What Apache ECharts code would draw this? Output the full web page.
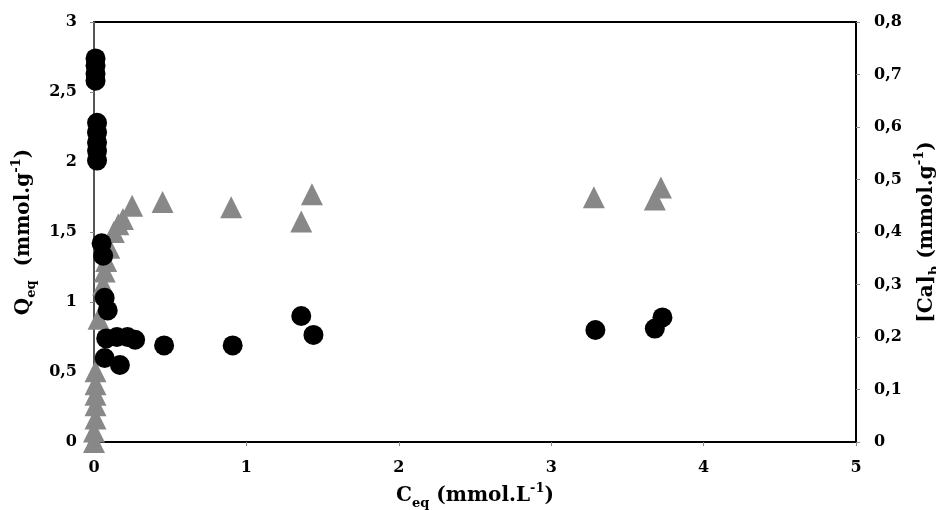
<!DOCTYPE html>
<html>
<head>
<meta charset="utf-8">
<script src="https://cdn.jsdelivr.net/npm/echarts@6/dist/echarts.min.js"></script>
<style>html,body{margin:0;padding:0;background:#fff;}#c{width:936px;height:510px;}</style>
</head>
<body>
<div id="c"></div>
<script>
// Black circles: Qeq (left axis)
const circleX = [0.01,0.01,0.01,0.01,0.02,0.02,0.02,0.02,0.02,0.05,0.06,0.07,0.09,0.08,0.15,0.22,0.27,0.07,0.17,0.46,0.91,1.36,1.44,3.29,3.68,3.73];
const circleY = [2.74,2.69,2.63,2.58,2.28,2.21,2.14,2.08,2.01,1.42,1.33,1.03,0.94,0.74,0.75,0.75,0.73,0.60,0.55,0.69,0.69,0.90,0.765,0.80,0.81,0.89];
// Gray triangles: [Ca]b (right axis)
const triX = [0.00,0.00,0.01,0.01,0.01,0.01,0.01,0.03,0.06,0.07,0.08,0.10,0.13,0.16,0.19,0.25,0.45,0.90,1.36,1.43,3.28,3.68,3.72];
const triY = [0.00,0.02,0.045,0.07,0.09,0.11,0.135,0.235,0.30,0.325,0.345,0.37,0.40,0.415,0.425,0.45,0.457,0.447,0.42,0.472,0.466,0.462,0.485];
const xTicks = {min:0, max:5, interval:1};
const yLeftTicks = {min:0, max:3, interval:0.5};
const yRightTicks = {min:0, max:0.8, interval:0.1};

const FONT = '"DejaVu Serif", "Liberation Serif", serif';
const comma = v => (Math.round(v*10)/10).toString().replace('.', ',');
const labelStyle = {fontFamily: FONT, fontWeight: 'bold', fontSize: 16, color: '#000'};
const nameRich = {
  n: {fontFamily: FONT, fontWeight: 'bold', fontSize: 20, color: '#000', verticalAlign: 'middle', lineHeight: 28},
  sub: {fontFamily: FONT, fontWeight: 'bold', fontSize: 13, color: '#000', verticalAlign: 'bottom', lineHeight: 14},
  sup: {fontFamily: FONT, fontWeight: 'bold', fontSize: 13, color: '#000', verticalAlign: 'top', lineHeight: 14}
};

const chart = echarts.init(document.getElementById('c'), null, {renderer: 'canvas'});
chart.setOption({
  animation: false,
  backgroundColor: '#fff',
  grid: {left: 94, right: 80, top: 22, bottom: 68, containLabel: false, outerBoundsMode: 'none',
         show: true, borderColor: '#000', borderWidth: 2, backgroundColor: 'transparent'},
  xAxis: {
    type: 'value', min: xTicks.min, max: xTicks.max, interval: xTicks.interval,
    axisLine: {show: true, lineStyle: {color: '#000', width: 2}},
    axisTick: {show: true, inside: false, length: 4, lineStyle: {color: '#888'}},
    splitLine: {show: false},
    axisLabel: Object.assign({margin: 18}, labelStyle),
    name: '{n|C}{sub|eq}{n| (mmol.L}{sup|-1}{n|)}',
    nameLocation: 'middle', nameGap: 40,
    nameTextStyle: {rich: nameRich}
  },
  yAxis: [{
    type: 'value', min: yLeftTicks.min, max: yLeftTicks.max, interval: yLeftTicks.interval,
    position: 'left',
    axisLine: {show: true, onZero: false, lineStyle: {color: '#555', width: 2}},
    axisTick: {show: true, inside: false, length: 4, lineStyle: {color: '#888'}},
    splitLine: {show: false},
    axisLabel: Object.assign({margin: 17, formatter: v => comma(v)}, labelStyle),
    name: '{n|Q}{sub|eq}{n|  (mmol.g}{sup|-1}{n|)}',
    nameLocation: 'middle', nameGap: 52, nameRotate: 90,
    nameTextStyle: {rich: nameRich}
  }, {
    type: 'value', min: yRightTicks.min, max: yRightTicks.max, interval: yRightTicks.interval,
    position: 'right',
    axisLine: {show: true, onZero: false, lineStyle: {color: '#000', width: 2}},
    axisTick: {show: true, inside: false, length: 4, lineStyle: {color: '#888'}},
    splitLine: {show: false},
    axisLabel: Object.assign({margin: 18, formatter: v => comma(v)}, labelStyle),
    name: '{n|[Ca]}{sub|b}{n| (mmol.g}{sup|-1}{n|)}',
    nameLocation: 'middle', nameGap: 46, nameRotate: 90,
    nameTextStyle: {rich: nameRich}
  }],
  series: [{
    type: 'scatter', yAxisIndex: 1, clip: false,
    symbol: 'triangle', symbolSize: 22,
    itemStyle: {color: '#888888', opacity: 1},
    data: triX.map((x, i) => [x, triY[i]])
  }, {
    type: 'scatter', yAxisIndex: 0, clip: false,
    symbol: 'circle', symbolSize: 20,
    itemStyle: {color: '#000000', opacity: 1},
    data: circleX.map((x, i) => [x, circleY[i]])
  }]
});
</script>
</body>
</html>
